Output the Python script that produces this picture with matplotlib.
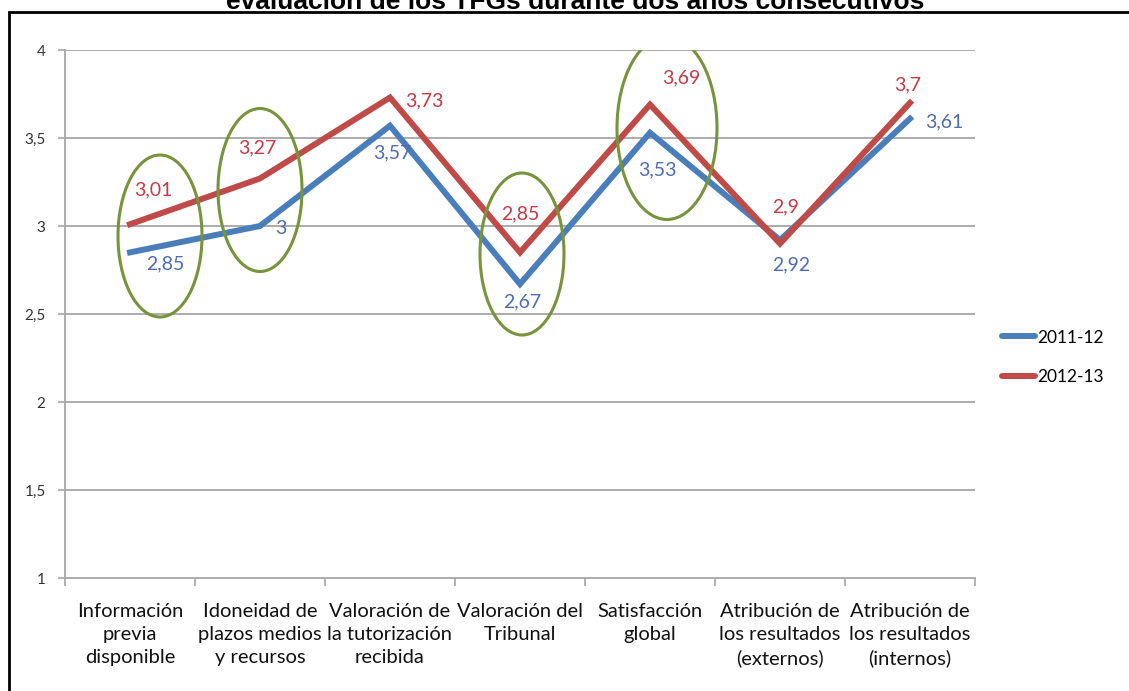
import matplotlib
matplotlib.use("Agg")
import matplotlib.pyplot as plt
from matplotlib.patches import Ellipse, Rectangle
from matplotlib.lines import Line2D

# ---- data ----
categories = [
    "Información\nprevia\ndisponible",
    "Idoneidad de\nplazos medios\ny recursos",
    "Valoración de\nla tutorización\nrecibida",
    "Valoración del\nTribunal",
    "Satisfacción\nglobal",
    "Atribución de\nlos resultados\n(externos)",
    "Atribución de\nlos resultados\n(internos)",
]
series_names = ["2011-12", "2012-13"]
values_2011 = [2.85, 3.00, 3.57, 2.67, 3.53, 2.92, 3.61]
values_2012 = [3.01, 3.27, 3.73, 2.85, 3.69, 2.90, 3.70]
y_ticks = [1, 1.5, 2, 2.5, 3, 3.5, 4]
title = "evaluación de los TFGs durante dos años consecutivos"

# ---- styling ----
W, H = 1129, 691
blue_line, red_line = "#4A7EBB", "#BE4B48"
blue_txt, red_txt = "#4F6CB0", "#C23B45"
green = "#77933C"
grid_c = "#A6A6A6"
fnt = "Lato"

def fmt(v):
    s = ("%.2f" % v).rstrip("0").rstrip(".")
    return s.replace(".", ",")

fig = plt.figure(figsize=(W / 100, H / 100), dpi=100)
fig.patch.set_facecolor("white")

left, right = 65 / W, 975 / W
bottom, top = 1 - 578 / H, 1 - 50 / H
ax = fig.add_axes([left, bottom, right - left, top - bottom])
ax.set_xlim(0, 7)
ax.set_ylim(1, 4)

x = [i + 0.5 for i in range(len(categories))]

for yt in y_ticks[1:]:
    ax.axhline(yt, color=grid_c, lw=1.3, zorder=1)

ax.plot(x, values_2011, color=blue_line, lw=4.3, solid_joinstyle="miter", zorder=3,
        label=series_names[0])
ax.plot(x, values_2012, color=red_line, lw=4.3, solid_joinstyle="miter", zorder=4,
        label=series_names[1])

# data labels (offsets in pixels, y downwards)
off_blue = [(35, 11), (21, 3), (2, 27), (2, 18), (7, 37), (11, 25), (34, 3)]
off_red = [(23, -34), (-3, -31), (34, 3), (0, -39), (31, -27), (6, -37), (-2, -18)]
for xi, v, o in zip(x, values_2011, off_blue):
    ax.annotate(fmt(v), (xi, v), xytext=(o[0] * 0.72, -o[1] * 0.72),
                textcoords="offset points", ha="center", va="center",
                color=blue_txt, fontsize=14, family=fnt, zorder=6)
for xi, v, o in zip(x, values_2012, off_red):
    ax.annotate(fmt(v), (xi, v), xytext=(o[0] * 0.72, -o[1] * 0.72),
                textcoords="offset points", ha="center", va="center",
                color=red_txt, fontsize=14, family=fnt, zorder=6)

# green ellipses (pixel centers / sizes)
ells = [(160, 236, 84, 162), (260, 190, 84, 163), (522, 254, 84, 162), (667, 128, 100, 183)]
for cx, cy, w, h in ells:
    dx = (cx - 65) / 130
    dy = 4 - (cy - 50) / 176
    ax.add_patch(Ellipse((dx, dy), w / 130, h / 176, fill=False,
                         edgecolor=green, lw=2.2, zorder=5))

# axes
for s in ["top", "right"]:
    ax.spines[s].set_visible(False)
for s in ["left", "bottom"]:
    ax.spines[s].set_color(grid_c)
    ax.spines[s].set_linewidth(1.3)

ax.set_yticks(y_ticks)
ax.set_yticklabels([fmt(v) for v in y_ticks], family=fnt, fontsize=11, color="#333333")
ax.tick_params(axis="y", length=5, color=grid_c, pad=9, width=1.2)

ax.set_xticks(range(8), minor=True)
ax.tick_params(axis="x", which="minor", length=6, color=grid_c, width=1.2)
ax.set_xticks(x)
ax.set_xticklabels(categories, family=fnt, fontsize=14.5, color="#111111",
                   linespacing=1.42)
ax.tick_params(axis="x", which="major", length=0, pad=18)

# legend
handles = [Line2D([], [], color=blue_line, lw=4.3, solid_capstyle="round"),
           Line2D([], [], color=red_line, lw=4.3, solid_capstyle="round")]
leg = fig.legend(handles, series_names, loc="center left",
                 bbox_to_anchor=(1002 / W, 1 - 357.5 / H), bbox_transform=fig.transFigure,
                 frameon=False, prop={"family": fnt, "size": 12.5},
                 handlelength=1.9, handletextpad=0.1, labelspacing=1.38,
                 borderpad=0, borderaxespad=0)

# border and title
fig.add_artist(Rectangle((9 / W, -0.1), 1.2, 1 - 12 / H + 0.1,
                         transform=fig.transFigure, fill=False,
                         edgecolor="black", lw=2.0))
fig.text(575 / W, 1 - 9 / H, title, ha="center", va="baseline",
         fontsize=19, fontweight="bold", family="Liberation Sans")

fig.savefig("out.png", dpi=100)
